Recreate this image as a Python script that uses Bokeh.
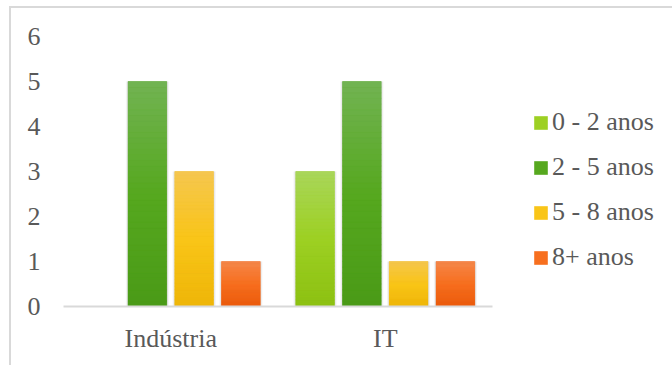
from bokeh.plotting import figure
from bokeh.models import (ColumnDataSource, Range1d, Legend, LegendItem, FixedTicker)
from bokeh.embed import file_html
from bokeh.resources import INLINE

# --- data -------------------------------------------------------------
categories = ["Indústria", "IT"]
series = ["0 - 2 anos", "2 - 5 anos", "5 - 8 anos", "8+ anos"]
anos_0_2 = [0, 3]
anos_2_5 = [5, 5]
anos_5_8 = [3, 1]
anos_8_mais = [1, 1]
y_ticks = [0, 1, 2, 3, 4, 5, 6]

values = [anos_0_2, anos_2_5, anos_5_8, anos_8_mais]

# --- styling ----------------------------------------------------------
# gradient stops for each series: top, middle, bottom
stops = [
    ("#a9d65a", "#9dd023", "#8cc012"),
    ("#72b353", "#56a81f", "#4a9a17"),
    ("#f5c650", "#f9c518", "#eeb508"),
    ("#f5884c", "#f76f1f", "#e95a0b"),
]
offsets = [-0.327, -0.109, 0.109, 0.327]
bar_w = 0.18
FONT = "Liberation Serif"
FONT_SIZE = "26px"
TEXT = "#595959"
AXIS = "#d9d9d9"


def hex_rgb(h):
    h = h.lstrip("#")
    return tuple(int(h[i:i + 2], 16) for i in (0, 2, 4))


def mix(c1, c2, t):
    a, b = hex_rgb(c1), hex_rgb(c2)
    return "#%02x%02x%02x" % tuple(round(a[k] + (b[k] - a[k]) * t) for k in range(3))


def gradient(top, mid, bottom, f):
    # f = 0 at bottom, 1 at top
    if f >= 0.5:
        return mix(mid, top, (f - 0.5) * 2)
    return mix(bottom, mid, f * 2)


n_cat = len(categories)
centers = [c + 0.5 for c in range(n_cat)]

# the plot area runs on to the right edge so the legend sits inside it;
# the category axis itself only spans [0, n_cat]
p = figure(x_range=Range1d(0, n_cat * 609 / 429), y_range=Range1d(0, 6),
           width=672, height=365, output_backend="svg", toolbar_location=None,
           min_border_left=63, min_border_right=0, min_border_top=36,
           min_border_bottom=59)
p.outline_line_color = None
p.xgrid.visible = False
p.ygrid.visible = False
p.background_fill_color = "white"
p.border_fill_alpha = 0

# chart area border: thin grey lines along the left and top edges
p.styles = {
    "background-color": "white",
    "background-image": "linear-gradient(#d9d9d9, #d9d9d9), linear-gradient(#d9d9d9, #d9d9d9)",
    "background-size": "2px 100%, 100% 2px",
    "background-position": "9px 6px, 9px 6px",
    "background-repeat": "no-repeat, no-repeat",
}

N = 40
items = []
for i, (name, vals) in enumerate(zip(series, values)):
    top_c, mid_c, bot_c = stops[i]
    xs = [c + offsets[i] for c in centers]
    src = ColumnDataSource(dict(x=xs, v=vals))

    # soft shadow around each bar
    p.vbar(x="x", top="v", width=bar_w + 0.02, source=src,
           fill_color="#808080", fill_alpha=0.10, line_color=None)
    p.vbar(x="x", top="v", width=bar_w + 0.01, source=src,
           fill_color="#808080", fill_alpha=0.15, line_color=None)

    # main bar
    r = p.vbar(x="x", top="v", width=bar_w, source=src,
               fill_color=mid_c, line_color=None)
    items.append(LegendItem(label=name, renderers=[r]))

    # vertical gradient shading over the bar
    gx, bots, tops, cols = [], [], [], []
    for x, v in zip(xs, vals):
        if v <= 0:
            continue
        for k in range(N):
            gx.append(x)
            bots.append(v * k / N)
            tops.append(v * (k + 1) / N)
            cols.append(gradient(top_c, mid_c, bot_c, (k + 0.5) / N))
    gsrc = ColumnDataSource(dict(x=gx, b=bots, t=tops, c=cols))
    p.vbar(x="x", bottom="b", top="t", width=bar_w, source=gsrc,
           fill_color="c", line_color="c", line_width=0.5)

# axes
p.yaxis.ticker = FixedTicker(ticks=y_ticks)
p.yaxis.axis_line_color = None
p.yaxis.major_tick_line_color = None
p.yaxis.minor_tick_line_color = None
p.yaxis.major_tick_in = 0
p.yaxis.major_tick_out = 0
p.yaxis.major_label_standoff = 23

p.xaxis.ticker = FixedTicker(ticks=centers)
p.xaxis.major_label_overrides = {c: name for c, name in zip(centers, categories)}
p.xaxis.bounds = (0, n_cat)
p.xaxis.axis_line_color = AXIS
p.xaxis.axis_line_width = 2
p.xaxis.major_tick_line_color = None
p.xaxis.minor_tick_line_color = None
p.xaxis.major_tick_in = 0
p.xaxis.major_tick_out = 0
p.xaxis.major_label_standoff = 17

for ax in (p.xaxis, p.yaxis):
    ax.major_label_text_font = FONT
    ax.major_label_text_font_size = FONT_SIZE
    ax.major_label_text_color = TEXT

# legend to the right of the bars
legend = Legend(items=items, location=(469, 34), orientation="vertical",
                glyph_width=17, glyph_height=17, label_height=30, spacing=15,
                padding=0, margin=0, label_standoff=3,
                label_text_font=FONT, label_text_font_size=FONT_SIZE,
                label_text_color=TEXT, border_line_color=None,
                background_fill_alpha=0)
p.add_layout(legend, "center")

open("out.html", "w").write(file_html(p, INLINE))
